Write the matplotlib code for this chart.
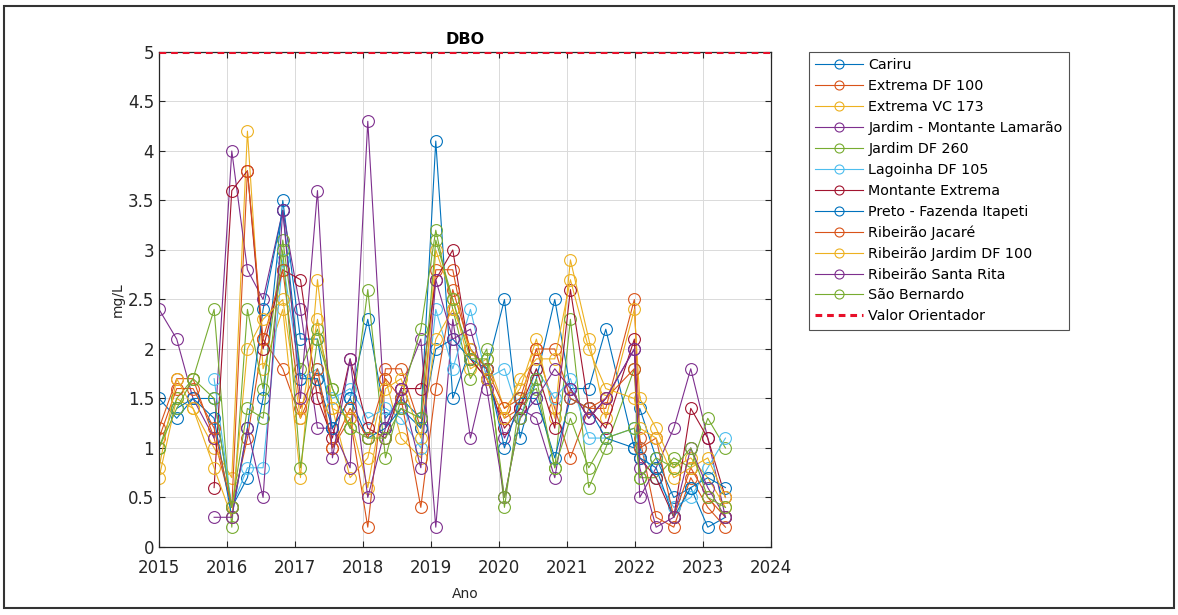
import numpy as np
import matplotlib.pyplot as plt
from matplotlib.patches import Rectangle
from matplotlib.ticker import FuncFormatter

# ==========================
# Data (DBO, mg/L)
# ==========================
anos = [2015.0, 2015.26, 2015.5, 2015.81, 2016.07, 2016.3, 2016.53, 2016.82,
        2017.08, 2017.33, 2017.55, 2017.81, 2018.07, 2018.33, 2018.56, 2018.85,
        2019.07, 2019.32, 2019.58, 2019.82, 2020.08, 2020.31, 2020.55, 2020.82,
        2021.05, 2021.32, 2021.57, 2021.99, 2022.07, 2022.31, 2022.57, 2022.82,
        2023.07, 2023.33]

nan = np.nan
cariru = [1.5, 1.3, 1.5, 1.5, 0.4, 0.7, 1.5, 3.5, 2.1, 2.1, 1.2, 1.5, 2.3, 1.3, 1.5, 1.3,
          4.1, 1.5, 2.0, 1.8, 2.5, 1.1, 1.7, 2.5, 1.6, 1.6, 2.2, 1.0, 1.4, 0.9, 0.5, 0.6, 0.2, 0.3]
extrema_df100 = [1.2, 1.7, 1.7, 1.1, 0.4, 1.1, 2.1, 1.8, 1.3, 1.7, 1.0, 1.3, 0.2, 1.8, 1.8, 1.2,
                 2.8, 2.8, 1.9, 1.7, 1.3, 1.4, 2.0, 1.4, 0.9, 1.4, 1.4, 2.5, 1.1, 0.3, 0.2, 0.7, 0.4, 0.2]
extrema_vc173 = [0.7, 1.5, 1.4, 1.0, 0.7, 4.2, 1.8, 2.4, 0.7, 2.7, 1.4, 0.7, 0.9, 1.7, 1.1, 0.9,
                 3.0, 2.5, 1.8, 1.9, 1.4, 1.6, 2.1, 1.3, 2.9, 2.1, 1.3, 2.4, 1.5, 1.2, 0.8, 0.9, 0.7, 0.4]
jardim_lamarao = [2.4, 2.1, 1.5, 1.1, 4.0, 2.8, 2.5, 3.4, 2.4, 1.2, 1.2, 0.8, 4.3, 1.2, 1.6, 2.1,
                  0.2, 2.3, 1.1, 1.8, 1.1, 1.4, 1.3, 0.7, 1.6, 1.3, 1.5, 2.0, 0.5, 0.8, 1.2, 1.8, 1.1, 0.3]
jardim_df260 = [1.0, 1.5, 1.7, 2.4, 0.2, 2.4, 1.6, 3.1, 1.8, 2.2, 1.6, 1.2, 2.6, 0.9, 1.5, 2.2,
                3.2, 2.4, 1.7, 2.0, 0.4, 1.5, 1.6, 0.8, 2.3, 0.6, 1.0, 1.8, 0.7, 0.7, 0.9, 0.8, 1.3, 1.0]
lagoinha_df105 = [nan, nan, nan, 1.7, 0.4, 0.8, 0.8, 2.9, 1.7, 1.8, 1.5, 1.6, 1.3, 1.4, 1.3, 1.0,
                  2.4, 1.8, 2.4, 1.7, 1.8, 1.3, 1.8, 1.5, 1.7, 1.1, 1.1, 1.2, 1.0, 0.7, 0.4, 0.5, 0.8, 1.1]
montante_extrema = [nan, nan, nan, 0.6, 3.6, 3.8, 2.0, 2.8, 2.7, 1.5, 1.1, 1.9, 1.2, 1.1, 1.6, 1.6,
                    2.7, 3.0, 1.9, 1.7, 1.2, 1.4, 1.8, 1.2, 2.6, 1.4, 1.2, 2.1, 0.9, 0.7, 0.3, 1.4, 1.1, 0.5]
preto_itapeti = [nan, 1.4, 1.5, 1.3, 0.3, 1.2, 2.4, 3.4, 1.7, 1.7, 1.2, 1.5, 1.1, 1.2, 1.4, 1.2,
                 2.0, 2.1, 1.9, 1.8, 1.0, 1.5, 1.5, 0.9, 1.5, 1.4, 1.1, 1.0, 0.9, 0.8, 0.3, 0.6, 0.7, 0.6]
rib_jacare = [1.1, 1.6, 1.6, 1.2, 0.4, 3.8, 2.1, 2.8, 1.4, 1.8, 1.0, 1.4, 1.1, 1.7, 1.5, 0.4,
              1.6, 2.6, 2.0, 1.8, 1.4, 1.5, 2.0, 2.0, 1.5, 1.4, 1.5, 1.8, 1.0, 1.1, 0.3, 0.8, 0.5, 0.3]
rib_jardim_df100 = [0.8, 1.7, 1.4, 0.8, 0.3, 2.0, 2.3, 2.5, 1.3, 2.3, 1.4, 1.3, 0.6, 1.6, 1.7, 1.1,
                    2.1, 2.4, 2.0, 1.7, 1.3, 1.7, 1.9, 1.9, 2.7, 2.0, 1.6, 1.5, 1.2, 1.1, 0.7, 0.8, 0.9, 0.5]
rib_santa_rita = [nan, nan, nan, 0.3, 0.3, 1.2, 0.5, 3.4, 1.5, 3.6, 0.9, 1.9, 0.5, 1.2, 1.6, 0.8,
                  2.7, 2.1, 2.2, 1.6, 0.5, 1.3, 1.5, 1.8, 1.6, 1.3, 1.5, 2.0, 0.8, 0.2, 0.3, 1.0, 0.6, 0.3]
sao_bernardo = [1.0, 1.4, 1.7, 1.5, 0.4, 1.4, 1.3, 3.0, 0.8, 2.1, 1.6, 1.2, 1.1, 1.1, 1.4, 1.3,
                3.1, 2.5, 1.9, 1.9, 0.5, 1.3, 1.7, 0.8, 1.3, 0.8, 1.1, 1.2, 0.7, 0.9, 0.8, 1.0, 0.5, 0.4]

nomes = ["Cariru", "Extrema DF 100", "Extrema VC 173", "Jardim - Montante Lamarão",
         "Jardim DF 260", "Lagoinha DF 105", "Montante Extrema", "Preto - Fazenda Itapeti",
         "Ribeirão Jacaré", "Ribeirão Jardim DF 100", "Ribeirão Santa Rita", "São Bernardo"]
series = [cariru, extrema_df100, extrema_vc173, jardim_lamarao, jardim_df260, lagoinha_df105,
          montante_extrema, preto_itapeti, rib_jacare, rib_jardim_df100, rib_santa_rita, sao_bernardo]

valor_orientador = 5

# MATLAB default colour order
cores = ["#0072BD", "#D95319", "#EDB120", "#7E2F8E", "#77AC30", "#4DBEEE", "#A2142F"]

# ==========================
# Plot
# ==========================
fig = plt.figure(figsize=(11.78, 6.15), dpi=100)
ax = fig.add_axes([0.135, 0.1106, 0.5195, 0.8049])

x = np.array(anos)
for i, (nome, vals) in enumerate(zip(nomes, series)):
    y = np.array(vals, dtype=float)
    ok = ~np.isnan(y)
    ax.plot(x[ok], y[ok], "-o", color=cores[i % 7], lw=0.8, ms=8.5,
            mfc="none", mew=0.8, label=nome)

ax.axhline(valor_orientador, color="#E8102A", ls="--", lw=2.2, dashes=(2.2, 1.6),
           label="Valor Orientador", zorder=5)

ax.set_xlim(2015, 2024)
ax.set_ylim(0, 5)
ax.set_xticks(range(2015, 2025))
ax.set_yticks(np.arange(0, 5.01, 0.5))
ax.yaxis.set_major_formatter(FuncFormatter(lambda v, p: "%g" % v))
ax.tick_params(direction="in", top=True, right=True, labelsize=12,
               length=4, width=0.8, colors="#262626")
ax.tick_params(axis="x", pad=9)
for s in ax.spines.values():
    s.set_color("#262626")
    s.set_linewidth(0.9)
ax.grid(True, color="#DADADA", lw=0.7)
ax.set_axisbelow(True)

ax.set_title("DBO", fontsize=11.5, fontweight="bold", pad=6)
ax.set_xlabel("Ano", fontsize=10, color="#262626", labelpad=7)
ax.set_ylabel("mg/L", fontsize=10, color="#262626", labelpad=2)

leg = ax.legend(loc="upper left", bbox_to_anchor=(0.6868, 0.9154),
                bbox_transform=fig.transFigure, fontsize=10.3, frameon=True,
                fancybox=False, edgecolor="#262626", handlelength=3.3,
                handletextpad=0.4, labelspacing=0.48, borderpad=0.45,
                borderaxespad=0)
leg.get_frame().set_linewidth(0.8)
for h in leg.get_lines():
    h.set_markersize(6.5)

# figure frame
fig.patches.append(Rectangle((0.003, 0.012), 0.994, 0.978, transform=fig.transFigure,
                             fill=False, edgecolor="#333333", lw=1.5))

fig.savefig("out.png", dpi=100)
